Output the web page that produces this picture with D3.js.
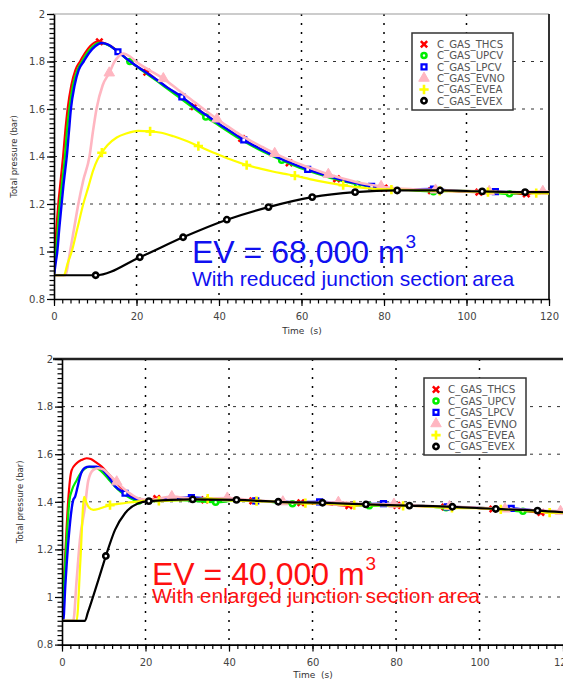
<!DOCTYPE html>
<html>
<head>
<meta charset="utf-8">
<script src="https://cdn.jsdelivr.net/npm/d3@7"></script>
<style>
  html, body { margin: 0; padding: 0; background: #fff; }
  svg { display: block; }
</style>
</head>
<body>
<svg id="chart" width="563" height="679"></svg>
<script>
// ---- shared axis values and series names ----
const seriesNames = ["C_GAS_THCS", "C_GAS_UPCV", "C_GAS_LPCV", "C_GAS_EVNO", "C_GAS_EVEA", "C_GAS_EVEX"];
const xTicks = [0, 20, 40, 60, 80, 100, 120];
const yTicks = [0.8, 1, 1.2, 1.4, 1.6, 1.8, 2];

// Samples are [time (s), total pressure (bar)]; a third entry of 1 marks a sample drawn with a symbol.

// ---- EV = 68,000 m3, reduced junction section area ----
const thcsReduced = [[0,0.9],[0.25,1.0],[0.6,1.1],[1.05,1.2],[1.5,1.28],[1.85,1.34],[2.2,1.4],[2.7,1.5],[3.3,1.6],[4.2,1.7],[5.2,1.765],[6.3,1.8],[7.5,1.835],[8.8,1.865],[10.5,1.884],[11,1.883,1],[12.5,1.876],[14,1.862],[16,1.836],[18,1.805],[20,1.78],[22.5,1.755,1],[25,1.722],[27.5,1.69],[30,1.66],[34,1.61,1],[37.5,1.566],[40,1.536],[42.5,1.508],[45.5,1.476,1],[48,1.45],[50,1.432],[52.5,1.41],[57,1.373,1],[60,1.354],[64,1.33],[68.5,1.306,1],[72,1.292],[76,1.277],[80,1.267,1],[85,1.261],[91.5,1.256,1],[97,1.254],[103,1.25,1],[108,1.249],[114.5,1.242,1],[117,1.249],[120,1.248]];
const upcvReduced = [[0,0.9],[0.5,1.0],[0.95,1.1],[1.4,1.2],[1.9,1.28],[2.3,1.34],[2.65,1.4],[3.1,1.5],[3.7,1.6],[4.6,1.7],[5.7,1.765],[6.8,1.8],[8,1.835],[9.3,1.862],[11,1.879],[12.5,1.874],[14,1.861],[16,1.834],[18.4,1.8,1],[20.5,1.773],[23,1.742],[25,1.717],[27.5,1.685],[30,1.653],[32.5,1.621],[36.8,1.566,1],[40,1.53],[42.5,1.502],[45,1.474],[47.5,1.449],[50,1.426],[55.2,1.384,1],[57.5,1.366],[60,1.35],[62.5,1.335],[65,1.321],[68,1.305],[73.6,1.282,1],[77,1.272],[80,1.266],[85,1.26],[92,1.252,1],[97,1.256],[103,1.253],[110.4,1.243,1],[115,1.248],[120,1.246]];
const lpcvReduced = [[0,0.9],[0.4,0.95],[0.8,1.0],[1.3,1.1],[1.85,1.2],[2.3,1.28],[2.7,1.34],[3.1,1.4],[3.6,1.5],[4.1,1.6],[5.0,1.7],[6.0,1.765],[7.2,1.8],[8.5,1.836],[10,1.864],[11.5,1.878],[13,1.872],[15.5,1.841,1],[18,1.806],[20,1.781],[22.5,1.752],[25,1.722],[27.5,1.69],[31,1.651,1],[33,1.624],[35,1.597],[37.5,1.567],[40,1.537],[42.5,1.509],[46,1.47,1],[48,1.45],[50,1.432],[52.5,1.41],[55,1.39],[57.5,1.372],[61.5,1.346,1],[64,1.331],[67.5,1.312],[70,1.3],[72.5,1.29],[77,1.274,1],[80,1.268],[85,1.262],[92,1.263,1],[95,1.258],[100,1.253],[107,1.252,1],[112,1.249],[120,1.248]];
const evnoReduced = [[0,0.9],[2.7,0.9],[3.9,1.0],[4.9,1.1],[5.9,1.2],[7.1,1.3],[8.6,1.4],[9.4,1.5],[10.3,1.6],[11.8,1.7],[13.4,1.752,1],[14.6,1.797],[15.7,1.822],[16.8,1.834],[18.5,1.82],[20,1.798],[23,1.765],[26.5,1.728,1],[30,1.682],[33,1.643],[36,1.603],[39.5,1.558,1],[42,1.528],[45,1.493],[48,1.463],[50.5,1.44],[53.5,1.413,1],[56,1.393],[60,1.365],[63,1.346],[66.5,1.325,1],[70,1.307],[73,1.294],[76,1.283],[79.3,1.274,1],[83,1.266],[87,1.262],[92.5,1.259,1],[98,1.256],[105.5,1.253,1],[112,1.25],[118.5,1.253,1],[120,1.251]];
const eveaReduced = [[0,0.9],[2.4,0.9],[3.3,0.95],[4.3,1.0],[5.7,1.1],[7.1,1.2],[8.3,1.27],[9.5,1.342],[10.5,1.385],[11.6,1.416,1],[13,1.448],[15.2,1.48],[17.5,1.497],[20.4,1.508],[23.3,1.506,1],[26,1.5],[29,1.485],[32,1.466],[35,1.444,1],[38,1.421],[41,1.4],[44,1.38],[46.7,1.364,1],[50,1.349],[53,1.337],[56,1.327],[58.4,1.319,1],[62,1.305],[65,1.294],[68,1.285],[70.1,1.279,1],[74,1.27],[77,1.265],[81.8,1.261,1],[87,1.258],[93.5,1.255,1],[100,1.253],[105.2,1.25,1],[112,1.248],[116.9,1.246,1],[120,1.245]];
const evexReduced = [[0,0.9],[10.1,0.9,1],[20.8,0.976,1],[31.3,1.06,1],[41.9,1.134,1],[52,1.187,1],[62.6,1.229,1],[73,1.25,1],[83.2,1.257,1],[93.6,1.257,1],[103.8,1.253,1],[114.2,1.25,1],[120,1.25]];

// ---- EV = 40,000 m3, enlarged junction section area ----
const thcsEnlarged = [[0,0.9],[0.4,1.05],[0.9,1.22],[1.5,1.408],[1.9,1.49],[2.3,1.532],[3.5,1.562],[4.7,1.576],[5.9,1.583],[6.9,1.58],[8,1.568],[9.5,1.548],[11,1.52],[12.5,1.49],[14,1.462],[15.5,1.438],[17,1.42],[18.5,1.41],[20,1.406],[22.7,1.414,1],[27,1.41],[34.2,1.408,1],[40,1.409],[45.7,1.404,1],[51,1.401],[57.2,1.396,1],[63,1.391],[68.7,1.384,1],[74,1.388],[80.2,1.385,1],[86,1.382],[91.7,1.378,1],[97,1.376],[103.2,1.37,1],[109,1.366],[114.7,1.355,1],[120,1.356]];
const upcvEnlarged = [[0,0.9],[0.5,1.06],[1.1,1.24],[1.8,1.408],[2.4,1.45],[3.5,1.49],[4.5,1.522],[5.5,1.54],[6.5,1.547],[8,1.545],[9.5,1.527],[11,1.498],[12.5,1.468],[14,1.443],[15.5,1.424],[17,1.41],[18.4,1.403,1],[22,1.403],[28,1.407],[36.8,1.398,1],[42,1.406],[48,1.403],[55.2,1.392,1],[60,1.396],[66,1.392],[73.6,1.383,1],[80,1.386],[86,1.383],[92,1.375,1],[98,1.376],[104,1.371],[110.4,1.36,1],[115,1.361],[120,1.355]];
const lpcvEnlarged = [[0,0.9],[0.3,0.9],[0.8,1.05],[1.6,1.25],[2.7,1.408],[3.1,1.42],[3.7,1.46],[4.3,1.505],[5.5,1.543],[6.5,1.548],[8.3,1.548],[9.5,1.538],[11,1.508],[12.7,1.466],[15.1,1.436,1],[16.7,1.418],[18.3,1.408],[20,1.405],[25,1.412],[31,1.418,1],[37,1.41],[42,1.408],[46.4,1.404,1],[52,1.402],[56,1.398],[61.7,1.4,1],[67,1.393],[72,1.39],[77,1.392,1],[82,1.386],[87,1.382],[92.3,1.379,1],[97,1.377],[102,1.373],[107.6,1.372,1],[113,1.364],[120,1.357]];
const evnoEnlarged = [[0,0.9],[2.7,0.9],[3.5,1.07],[4.3,1.24],[5.5,1.379],[6.3,1.49],[7.5,1.534],[8.7,1.541],[10,1.535],[11.5,1.51],[13.1,1.484,1],[14.8,1.455],[16.7,1.43],[18.2,1.415],[19.5,1.41],[21,1.408],[26.3,1.422,1],[32,1.412],[39.6,1.416,1],[46,1.406],[52.9,1.4,1],[60,1.396],[66.2,1.398,1],[73,1.39],[79.5,1.39,1],[86,1.383],[92.8,1.38,1],[99,1.376],[106.1,1.37,1],[112,1.365],[119.4,1.36,1],[120,1.358]];
const eveaEnlarged = [[0,0.9],[3.5,0.9],[4.4,1.15],[5.3,1.421],[5.8,1.398],[6.4,1.377],[7.5,1.366],[8.8,1.37],[10.3,1.379],[11.5,1.386,1],[13.1,1.39],[15.5,1.396],[17.5,1.4],[19.5,1.404],[23.2,1.404,1],[29,1.407],[34.9,1.413,1],[41,1.405],[46.6,1.403,1],[52,1.4],[58.3,1.394,1],[64,1.392],[70,1.386,1],[76,1.386],[81.7,1.383,1],[87,1.381],[93.4,1.374,1],[99,1.373],[105.1,1.368,1],[111,1.364],[116.8,1.355,1],[120,1.354]];
const evexEnlarged = [[0,0.9],[5.5,0.9],[6.2,0.935],[8.7,1.071],[10.5,1.172,1],[12.7,1.282],[15.1,1.352],[18.3,1.394],[20.8,1.403,1],[31.3,1.41,1],[41.8,1.408,1],[51.8,1.4,1],[62.4,1.396,1],[72.8,1.389,1],[83.2,1.384,1],[93.5,1.379,1],[103.9,1.37,1],[113.9,1.363,1],[120,1.356]];

// ---- drawing styles per series (same order as seriesNames) ----
const symTimes = d3.symbolTimes || d3.symbolCross;
const symPlus = d3.symbolPlus || d3.symbolCross;
const styles = [
  { color: "#ff0000", width: 2.2, sym: symTimes,         size: 28, fill: "none",   stroke: "#ff0000", sw: 2.5 },
  { color: "#00ee00", width: 2.2, sym: d3.symbolCircle,   size: 20, fill: "#fff",   stroke: "#00ee00", sw: 2.5 },
  { color: "#0000ff", width: 2.4, sym: d3.symbolSquare,   size: 24, fill: "#fff",   stroke: "#0000ff", sw: 2.3 },
  { color: "#ffb6c1", width: 2.6, sym: d3.symbolTriangle, size: 48, fill: "#ffb6c1",stroke: "#ffb6c1", sw: 1   },
  { color: "#ffff00", width: 2.2, sym: symPlus,           size: 30, fill: "none",   stroke: "#ffff00", sw: 2.6 },
  { color: "#000000", width: 2.2, sym: d3.symbolCircle,   size: 22, fill: "#fff",   stroke: "#000000", sw: 2.6 }
];

const FONT = "'DejaVu Sans', Verdana, sans-serif";
const svg = d3.select("#chart");

function drawPanel(p) {
  const x = d3.scaleLinear().domain([0, 120]).range([p.left, p.right]);
  const y = d3.scaleLinear().domain([0.8, 2]).range([p.bottom, p.top]);
  const g = svg.append("g");

  svg.append("clipPath").attr("id", "clip" + p.id)
    .append("rect")
    .attr("x", p.left).attr("y", p.top - 2)
    .attr("width", p.right - p.left).attr("height", p.bottom - p.top + 2);

  // grid: dashed horizontals, dotted verticals
  g.append("g").selectAll("line").data(yTicks.slice(1, -1)).join("line")
    .attr("x1", p.left).attr("x2", p.right)
    .attr("y1", d => y(d)).attr("y2", d => y(d))
    .attr("stroke", "#333").attr("stroke-width", 1)
    .attr("stroke-dasharray", "3,6");
  g.append("g").selectAll("line").data(xTicks.slice(1, -1)).join("line")
    .attr("x1", d => x(d)).attr("x2", d => x(d))
    .attr("y1", p.top).attr("y2", p.bottom)
    .attr("stroke", "#000").attr("stroke-width", 1.5)
    .attr("stroke-dasharray", "2,7");

  // frame
  g.append("line")
    .attr("x1", p.frameLeft).attr("x2", p.right)
    .attr("y1", p.top).attr("y2", p.top)
    .attr("stroke", p.topStroke).attr("stroke-width", p.topWidth);
  if (p.rightBorder) {
    g.append("line")
      .attr("x1", p.right).attr("x2", p.right)
      .attr("y1", p.top).attr("y2", p.bottom)
      .attr("stroke", "#333").attr("stroke-width", 2);
  }

  // curves and their symbols
  const line = d3.line().x(d => x(d[0])).y(d => y(d[1])).curve(d3.curveMonotoneX);
  const lg = g.append("g").attr("clip-path", `url(#clip${p.id})`);
  p.series.forEach((s, i) => {
    const st = styles[i];
    lg.append("path").datum(s)
      .attr("d", line)
      .attr("fill", "none")
      .attr("stroke", st.color)
      .attr("stroke-width", st.width)
      .attr("stroke-linejoin", "round");
    lg.append("g").selectAll("path").data(s.filter(d => d[2])).join("path")
      .attr("transform", d => `translate(${x(d[0])},${y(d[1])})`)
      .attr("d", d3.symbol(st.sym, st.size))
      .attr("fill", st.fill)
      .attr("stroke", st.stroke)
      .attr("stroke-width", st.sw);
  });

  // axes with major and minor ticks
  const yMinor = d3.range(40, 101).map(k => k / 50);
  const xMinor = d3.range(0, 61).map(k => k * 2);
  const styleAxis = sel => {
    sel.attr("font-family", FONT);
    sel.selectAll(".tick line").attr("stroke", "#000").attr("stroke-width", 1.2);
    sel.selectAll("text").attr("fill", "#444").attr("font-size", 10);
  };
  g.append("g").attr("transform", `translate(${p.left},0)`)
    .call(d3.axisLeft(y).tickValues(yMinor).tickSize(4.5).tickSizeOuter(0).tickFormat(""))
    .call(sel => sel.select(".domain").remove())
    .call(styleAxis);
  g.append("g").attr("transform", `translate(${p.left},0)`)
    .call(d3.axisLeft(y).tickValues(yTicks).tickSize(7).tickSizeOuter(0).tickPadding(2).tickFormat(d3.format("~g")))
    .call(styleAxis)
    .call(sel => sel.select(".domain").attr("stroke", "#000").attr("stroke-width", 1.6));
  g.append("g").attr("transform", `translate(0,${p.bottom})`)
    .call(d3.axisBottom(x).tickValues(xMinor).tickSize(4.5).tickSizeOuter(0).tickFormat(""))
    .call(sel => sel.select(".domain").remove())
    .call(styleAxis);
  g.append("g").attr("transform", `translate(0,${p.bottom})`)
    .call(d3.axisBottom(x).tickValues(xTicks).tickSize(7).tickSizeOuter(0).tickPadding(7))
    .call(styleAxis)
    .call(sel => sel.select(".domain").attr("stroke", "#000").attr("stroke-width", 1.6));

  // axis titles
  g.append("text")
    .attr("transform", `translate(${p.yTitleX},${(p.top + p.bottom) / 2}) rotate(-90)`)
    .attr("text-anchor", "middle")
    .attr("font-family", FONT).attr("font-size", 8.5).attr("fill", "#333")
    .text("Total pressure (bar)");
  g.append("text")
    .attr("x", p.xTitleX).attr("y", p.xTitleY)
    .attr("text-anchor", "middle")
    .attr("font-family", FONT).attr("font-size", 9).attr("fill", "#333")
    .style("white-space", "pre")
    .text("Time  (s)");

  // legend
  const L = p.legend;
  const leg = g.append("g");
  leg.append("rect")
    .attr("x", L.x).attr("y", L.y).attr("width", L.w).attr("height", L.h)
    .attr("fill", "#fff").attr("stroke", "#333").attr("stroke-width", 1.5);
  seriesNames.forEach((name, i) => {
    const st = styles[i];
    const cy = L.y0 + i * L.dy;
    leg.append("path")
      .attr("transform", `translate(${L.mx},${cy})`)
      .attr("d", d3.symbol(st.sym, st.size))
      .attr("fill", st.fill).attr("stroke", st.stroke).attr("stroke-width", st.sw);
    leg.append("text")
      .attr("x", L.tx).attr("y", cy + 3.8)
      .attr("font-family", FONT).attr("font-size", L.fs).attr("fill", "#555")
      .text(name);
  });

  // case annotation
  const N = p.note;
  const t = g.append("text")
    .attr("x", N.x).attr("y", N.y)
    .attr("font-family", "'Liberation Sans', Arial, sans-serif")
    .attr("font-size", 32).attr("fill", N.color);
  t.append("tspan").text(N.main);
  t.append("tspan").attr("font-size", 19).attr("dy", -15).attr("dx", 1).text("3");
  g.append("text")
    .attr("x", N.x).attr("y", N.subY)
    .attr("font-family", "'Liberation Sans', Arial, sans-serif")
    .attr("font-size", 21).attr("fill", N.color)
    .text(N.sub);
}

drawPanel({
  id: "a", left: 54, right: 549, top: 14, bottom: 299,
  frameLeft: 53, topStroke: "#999", topWidth: 1, rightBorder: true,
  series: [thcsReduced, upcvReduced, lpcvReduced, evnoReduced, eveaReduced, evexReduced],
  yTitleX: 17, xTitleX: 302, xTitleY: 334,
  legend: { x: 412, y: 33, w: 101, h: 77, mx: 424, tx: 437, y0: 44.3, dy: 11.3, fs: 10.2 },
  note: { x: 192, y: 263, subY: 286, color: "#1010f0",
          main: "EV = 68,000 m", sub: "With reduced junction section area" }
});

drawPanel({
  id: "b", left: 62, right: 563, top: 359, bottom: 644.6,
  frameLeft: 53, topStroke: "#222", topWidth: 2.5, rightBorder: false,
  series: [thcsEnlarged, upcvEnlarged, lpcvEnlarged, evnoEnlarged, eveaEnlarged, evexEnlarged],
  yTitleX: 23, xTitleX: 313, xTitleY: 678,
  legend: { x: 424, y: 378, w: 102, h: 77, mx: 436, tx: 448, y0: 389.5, dy: 11.4, fs: 10.4 },
  note: { x: 152, y: 585, subY: 603, color: "#ff1010",
          main: "EV = 40,000 m", sub: "With enlarged junction section area" }
});
</script>
</body>
</html>
